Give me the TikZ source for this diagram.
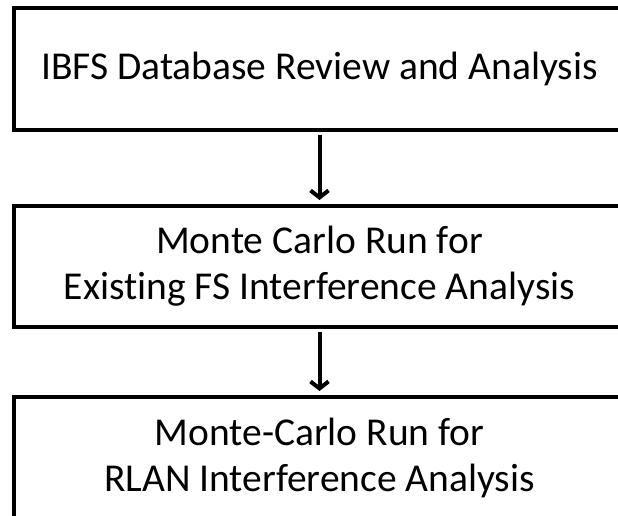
\documentclass[tikz,border=0pt]{standalone}
\usepackage{fontspec}
\setmainfont{Carlito}[Ligatures={NoCommon}]
\usetikzlibrary{arrows.meta}
\begin{document}
\begin{tikzpicture}[x=1pt,y=1pt,
  stepbox/.style={draw=black, line width=4pt, fill=white, minimum width=611pt, inner sep=0pt, align=center,
    font=\fontsize{39.5}{46}\selectfont},
  flow/.style={line width=4pt, -{Straight Barb[length=7pt,width=18pt,line width=4pt]}, shorten <=3pt, shorten >=4pt}]
\useasboundingbox (0,0) rectangle (618,-516);
\clip (0,0) rectangle (618,-516);
\node[stepbox, minimum height=122pt] (b1) at (319.5,-69) {IBFS Database Review and Analysis};
\node[stepbox, minimum height=121pt] (b2) at (319.5,-266.5) {Monte Carlo Run for\\Existing FS Interference Analysis};
\node[stepbox, minimum height=121pt] (b3) at (319.5,-457.5) {Monte-Carlo Run for\\RLAN Interference Analysis};
\draw[flow] (b1.south) -- (b2.north);
\draw[flow] (b2.south) -- (b3.north);
\end{tikzpicture}
\end{document}
